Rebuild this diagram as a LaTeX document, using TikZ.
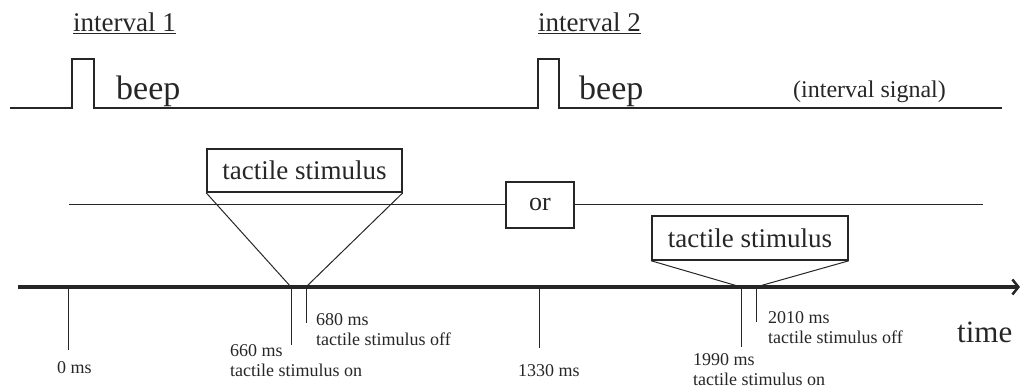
\documentclass[tikz,border=0pt]{standalone}
\usepackage{fontspec}
\setmainfont{Liberation Serif}
\usetikzlibrary{arrows.meta}
\begin{document}
\begin{tikzpicture}[x=1pt,y=1pt,color=black!85,
  box/.style={draw, line width=1.6pt, inner sep=0pt, minimum height=43pt, font=\fontsize{27}{30}\selectfont},
  lab/.style={anchor=base west, align=left, inner sep=0pt, font=\fontsize{18}{20}\selectfont},
  tick/.style={line width=1pt}]
  \useasboundingbox (0,0) rectangle (1022,391);
  % interval signal
  \draw[line width=1.3pt] (10,283) -- (72,283) -- (72,332) -- (94,332) -- (94,283)
    -- (538,283) -- (538,332) -- (559,332) -- (559,283) -- (1002,283);
  \node[anchor=base west, inner sep=0pt, font=\fontsize{27}{30}\selectfont] (int1) at (73,359) {\underline{interval 1}};
  \node[anchor=base west, inner sep=0pt, font=\fontsize{27}{30}\selectfont] (int2) at (538,359) {\underline{interval 2}};
  \node[anchor=base west, inner sep=0pt, font=\fontsize{34}{38}\selectfont] (beep1) at (116,291) {beep};
  \node[anchor=base west, inner sep=0pt, font=\fontsize{34}{38}\selectfont] (beep2) at (579,291) {beep};
  \node[anchor=base west, inner sep=0pt, font=\fontsize{24}{28}\selectfont] (sig) at (793,293) {(interval signal)};
  % or line
  \node[box, minimum width=68pt, minimum height=46pt, font=\fontsize{26}{30}\selectfont] (or) at (540,186) {or};
  \draw[line width=1pt] (69,186) -- (or.west);
  \draw[line width=1pt] (or.east) -- (983,186);
  % time axis
  \coordinate (ax0) at (18,104);
  \coordinate (ax1) at (1020,104);
  \draw[line width=3.5pt, -{Straight Barb[length=6pt,width=15pt,line width=2.5pt]}] (ax0) -- (ax1);
  \node[anchor=base west, inner sep=0pt, font=\fontsize{31}{34}\selectfont] (time) at (957,49) {time};
  \coordinate (t0) at (68,104);
  \coordinate (t660) at (291,104);
  \coordinate (t680) at (306,104);
  \coordinate (t1330) at (539,104);
  \coordinate (t1990) at (741,104);
  \coordinate (t2010) at (756,104);
  \draw[tick] (t0) -- ++(0,-63);
  \draw[tick] (t660) -- ++(0,-58);
  \draw[tick] (t680) -- ++(0,-36);
  \draw[tick] (t1330) -- ++(0,-61);
  \draw[tick] (t1990) -- ++(0,-60);
  \draw[tick] (t2010) -- ++(0,-35);
  \node[lab] (l0) at (57,18) {0 ms};
  \node[lab] (l660) at (230,15) {660 ms\\tactile stimulus on};
  \node[lab] (l680) at (316,46) {680 ms\\tactile stimulus off};
  \node[lab] (l1330) at (518,15) {1330 ms};
  \node[lab] (l1990) at (693,6) {1990 ms\\tactile stimulus on};
  \node[lab] (l2010) at (768,48) {2010 ms\\tactile stimulus off};
  % tactile stimulus boxes
  \node[box, minimum width=195pt] (ts1) at (304.5,220.5) {tactile stimulus};
  \node[box, minimum width=196pt, minimum height=44pt] (ts2) at (750,153) {tactile stimulus};
  \draw[line width=1pt] (ts1.south west) -- (t660);
  \draw[line width=1pt] (ts1.south east) -- (t680);
  \draw[line width=1pt] (ts2.south west) -- (t1990);
  \draw[line width=1pt] (ts2.south east) -- (t2010);
\end{tikzpicture}
\end{document}
